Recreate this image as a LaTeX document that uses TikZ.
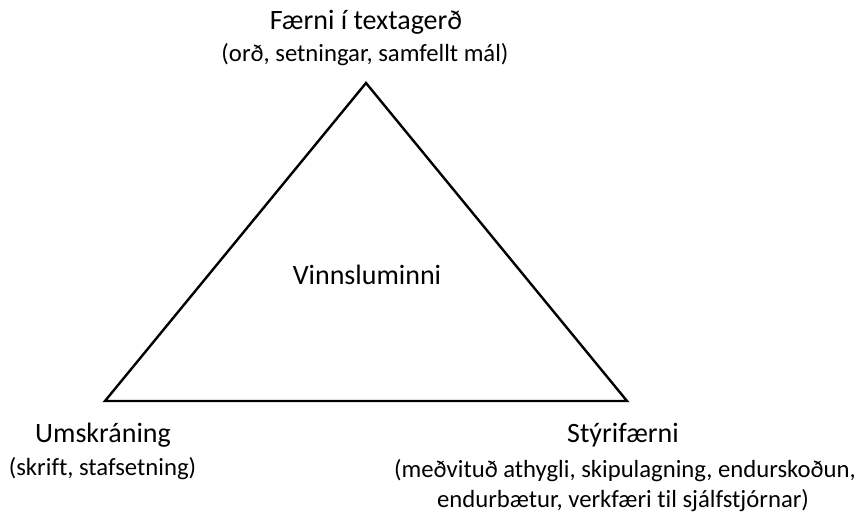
\documentclass[tikz,border=0pt]{standalone}
\usepackage{fontspec}
\setmainfont{Carlito}[Ligatures=NoCommon]
\begin{document}
\begin{tikzpicture}[x=1pt, y=-1pt,
  head/.style={font=\fontsize{28}{32}\selectfont, anchor=base, inner sep=0},
  sub/.style={font=\fontsize{24.7}{30}\selectfont, anchor=base, inner sep=0},
  side/.style={line width=2.4pt, line join=miter}]
\useasboundingbox (0,0) rectangle (860,513);
% corners
\coordinate (top) at (366,83);
\coordinate (left) at (105,401);
\coordinate (right) at (627,401);
\draw[side] (top) -- (left) -- (right) -- cycle;
% labels
\node[head] (t1) at (366,30) {Færni í textagerð};
\node[sub] (t2) at (365,62) {(orð, setningar, samfellt mál)};
\node[head] (mid) at (367,285) {Vinnsluminni};
\node[head] (l1) at (103,442) {Umskráning};
\node[sub] (l2) at (102.5,475) {(skrift, stafsetning)};
\node[head] (r1) at (623,442) {Stýrifærni};
\node[sub] (r2) at (625,477) {(meðvituð athygli, skipulagning, endurskoðun,};
\node[sub] (r3) at (623,507) {endurbætur, verkfæri til sjálfstjórnar)};
\end{tikzpicture}
\end{document}
